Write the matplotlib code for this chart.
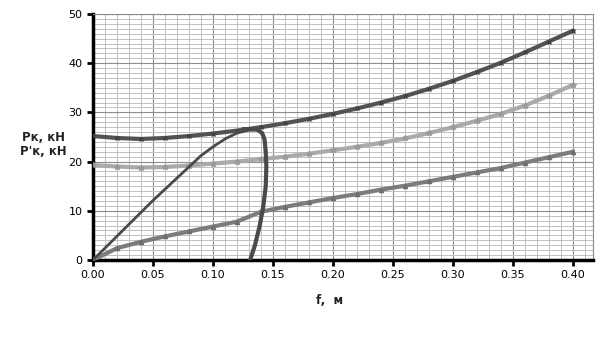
import numpy as np
import matplotlib.pyplot as plt
from matplotlib.ticker import MultipleLocator

# Curves
f = [0.00, 0.02, 0.04, 0.06, 0.08, 0.10, 0.12, 0.14, 0.16, 0.18, 0.20,
     0.22, 0.24, 0.26, 0.28, 0.30, 0.32, 0.34, 0.36, 0.38, 0.40]
pk = [25.2, 24.8, 24.6, 24.8, 25.2, 25.7, 26.3, 27.0, 27.8, 28.7, 29.7,
      30.8, 32.0, 33.3, 34.8, 36.4, 38.2, 40.1, 42.2, 44.4, 46.6]
pk2 = [19.3, 19.0, 18.8, 18.9, 19.2, 19.6, 20.0, 20.5, 21.0, 21.6, 22.3,
       23.0, 23.8, 24.7, 25.8, 27.0, 28.3, 29.7, 31.4, 33.4, 35.6]
pf = [0.0, 2.4, 3.7, 4.8, 5.8, 6.8, 7.8, 9.8, 10.8, 11.7, 12.6,
      13.4, 14.3, 15.1, 16.0, 16.9, 17.8, 18.7, 19.8, 20.9, 22.0]

# loop curve
loop_f = [0.000, 0.050, 0.090, 0.100, 0.110, 0.120, 0.130, 0.137]
loop_p = [0.0, 12.1, 21.2, 23.0, 24.6, 25.8, 26.4, 26.6]
down_f = [0.126, 0.137, 0.141, 0.143, 0.144, 0.1445, 0.144, 0.142, 0.139, 0.135, 0.131]
down_p = [26.6, 26.5, 25.8, 24.5, 22.0, 19.0, 15.0, 11.0, 7.0, 3.0, 0.0]

fig = plt.figure(figsize=(6.05, 3.4), dpi=100)
ax = fig.add_axes([0.1537, 0.2353, 0.8263, 0.7235])

ax.plot(f, pk, color='#525252', lw=3, marker='x', ms=3.5, mew=1, mec='#404040', zorder=4)
ax.plot(f, pk2, color='#aaaaaa', lw=3, marker='*', ms=4, mec='#9a9a9a', mfc='#9a9a9a', zorder=3)
ax.plot(f, pf, color='#7c7c7c', lw=3, marker='^', ms=3, mec='#6e6e6e', mfc='#6e6e6e', zorder=3)
ax.plot(loop_f, loop_p, color='#4a4a4a', lw=2, zorder=5)
ax.plot(down_f, down_p, color='#4a4a4a', lw=3, zorder=5)

ax.set_xlim(0, 0.4167)
ax.set_ylim(0, 50)
ax.xaxis.set_minor_locator(MultipleLocator(0.01))
ax.yaxis.set_major_locator(MultipleLocator(10))
ax.yaxis.set_minor_locator(MultipleLocator(1))
ax.set_xticks(np.arange(0, 0.41, 0.05))
ax.set_xticklabels(['%.2f' % v for v in np.arange(0, 0.41, 0.05)])

ax.grid(which='major', color='#8c8c8c', lw=0.8)
ax.grid(which='minor', color='#c0c0c0', lw=0.7)
ax.set_axisbelow(True)
ax.tick_params(which='minor', length=0)
ax.tick_params(which='major', length=4, width=2, direction='out', labelsize=8, colors='black')

for s in ['left', 'bottom']:
    ax.spines[s].set_linewidth(2.5)
    ax.spines[s].set_color('black')
for s in ['top', 'right']:
    ax.spines[s].set_linewidth(0.8)
    ax.spines[s].set_color('#8c8c8c')

fig.text(0.072, 0.575, "Рк, кН\nР'к, кН", ha='center', va='center', fontsize=8.5,
         fontweight='bold', color='#222222', linespacing=1.1)
fig.text(0.545, 0.115, 'f,  м', ha='center', va='center', fontsize=8.5,
         fontweight='bold', color='#222222')

fig.savefig('out.png', dpi=100)
